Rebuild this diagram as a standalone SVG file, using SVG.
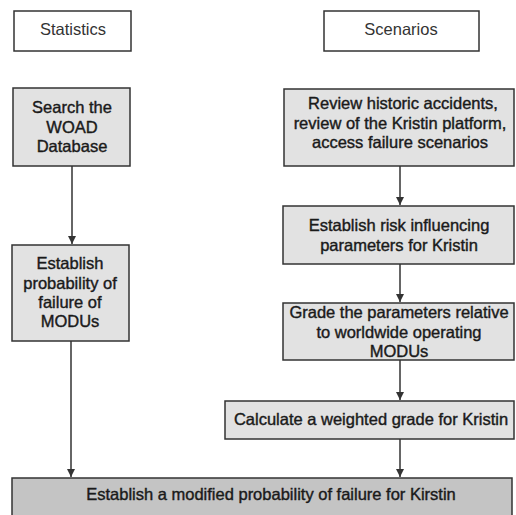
<svg xmlns="http://www.w3.org/2000/svg" width="516" height="515" viewBox="0 0 516 515">
<defs>
<style>
.hdr{fill:#ffffff;stroke:#333;stroke-width:1.5}
.box{fill:#e2e2e2;stroke:#333;stroke-width:1.5}
.dark{fill:#c4c4c4;stroke:#333;stroke-width:1.5}
text{font-family:"Liberation Sans",Arial,sans-serif;font-size:16.5px;fill:#1a1a1a;text-anchor:middle;stroke:#1a1a1a;stroke-width:0.4}
.h{stroke:none;fill:#333}
.con{stroke:#333;stroke-width:1.5;fill:none;marker-end:url(#ah)}
</style>
<marker id="ah" viewBox="0 0 10 10" refX="10" refY="5" markerWidth="8" markerHeight="8" markerUnits="userSpaceOnUse" orient="auto">
<path d="M0,0 L10,5 L0,10 z" fill="#333"/>
</marker>
</defs>
<rect width="516" height="515" fill="#fff"/>
<g id="connectors">
<path class="con" d="M72,166 V244"/>
<path class="con" d="M71,341 V477"/>
<path class="con" d="M400,166 V205"/>
<path class="con" d="M400,264 V302"/>
<path class="con" d="M400,360 V400"/>
<path class="con" d="M400,439 V477"/>
</g>
<g id="statistics">
<rect class="hdr" x="14" y="11" width="117" height="40"/>
<text class="h" x="73" y="35">Statistics</text>
</g>
<g id="scenarios">
<rect class="hdr" x="324" y="11" width="155" height="40"/>
<text class="h" x="401" y="35">Scenarios</text>
</g>
<g id="search">
<rect class="box" x="13" y="88" width="117" height="78"/>
<text x="72" y="113">Search the</text>
<text x="72" y="133">WOAD</text>
<text x="72" y="152">Database</text>
</g>
<g id="probability">
<rect class="box" x="12" y="245" width="117" height="96"/>
<text x="70" y="269">Establish</text>
<text x="70" y="289">probability of</text>
<text x="70" y="308">failure of</text>
<text x="70" y="327">MODUs</text>
</g>
<g id="review">
<rect class="box" x="284" y="89" width="230" height="77"/>
<text x="403" y="109">Review historic accidents,</text>
<text x="400" y="129">review of the Kristin platform,</text>
<text x="400" y="148">access failure scenarios</text>
</g>
<g id="risk">
<rect class="box" x="283" y="206" width="231" height="58"/>
<text x="399" y="231">Establish risk influencing</text>
<text x="399" y="251">parameters for Kristin</text>
</g>
<g id="grade">
<rect class="box" x="283" y="303" width="231" height="57"/>
<text x="399" y="318">Grade the parameters relative</text>
<text x="399" y="338">to worldwide operating</text>
<text x="399" y="357">MODUs</text>
</g>
<g id="calc">
<rect class="box" x="225" y="401" width="289" height="38"/>
<text x="371" y="425">Calculate a weighted grade for Kristin</text>
</g>
<g id="modified">
<rect class="dark" x="12" y="478" width="500" height="40"/>
<text x="271" y="500">Establish a modified probability of failure for Kirstin</text>
</g>
</svg>
